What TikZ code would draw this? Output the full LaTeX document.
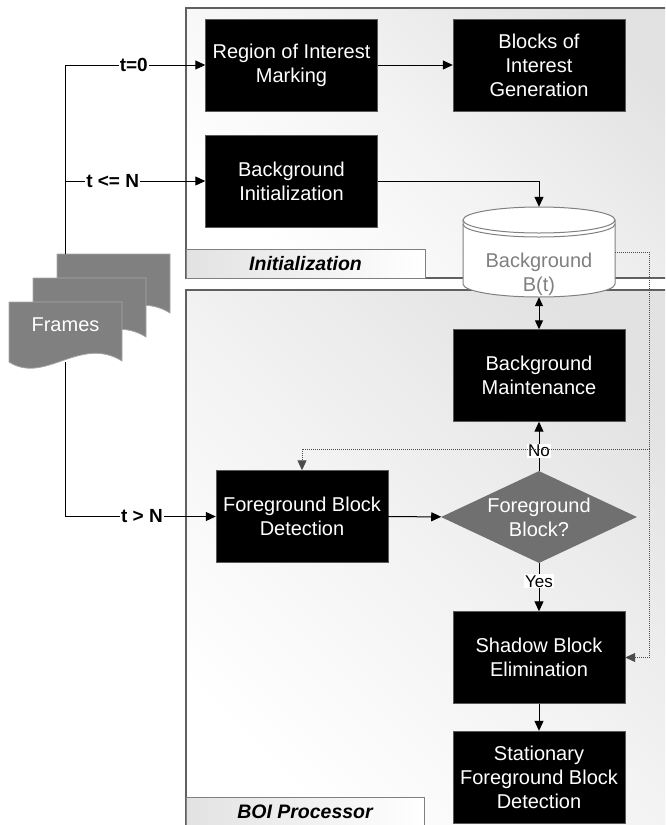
\documentclass[tikz,border=0pt]{standalone}
\usepackage{fontspec}
\setmainfont{Liberation Sans}
\usetikzlibrary{shapes.geometric,arrows.meta}
\definecolor{gray1}{RGB}{226,226,226}
\definecolor{gray2}{RGB}{112,112,112}
\definecolor{gray3}{RGB}{128,128,128}
\definecolor{edge1}{RGB}{96,96,96}
\tikzset{
  procbox/.style={fill=black, draw=gray!70!black, text=white, align=center, inner sep=0pt,
    minimum width=172pt, minimum height=92pt, font=\fontsize{20}{24}\selectfont},
  decision/.style={diamond, aspect=2.13, fill=gray2, text=white, align=center, inner sep=0pt,
    minimum width=196pt, minimum height=92pt, font=\fontsize{20}{24}\selectfont},
  flow/.style={-{Triangle[length=10pt,width=9pt]}, line width=1pt},
  flowboth/.style={{Triangle[length=9pt,width=8pt]}-{Triangle[length=9pt,width=8pt]}, line width=1pt},
  aux/.style={flow, draw=gray!60!black, dash pattern=on 1pt off 1pt, line width=0.9pt},
  lbl/.style={fill=white, inner sep=1pt, font=\fontsize{19}{22}\selectfont\bfseries},
  cond/.style={fill=white, inner sep=1pt, font=\fontsize{17}{20}\selectfont},
  panel/.style={draw=edge1, line width=1.2pt, top color=gray1, bottom color=white, middle color=gray1!45!white, shading angle=-45},
  tag/.style={draw=gray3, line width=1pt, left color=gray1, right color=white, inner sep=0pt,
    font=\fontsize{19.5}{22}\selectfont\bfseries\itshape},
  page/.style={fill=gray3, draw=gray!70, line width=0.8pt},
}

\begin{document}
\begin{tikzpicture}[x=1pt,y=-1pt]
\useasboundingbox (0,0) rectangle (665,825);
\clip (0,0) rectangle (665,825);
%
% containers
\draw[panel] (186,8) rectangle (700,278);
\draw[panel] (186,290) rectangle (700,840);
\node[tag, minimum width=239pt, minimum height=29pt] (inittag) at (305.5,263.5) {Initialization};
\node[tag, minimum width=238pt, minimum height=30pt] (boitag) at (305,812) {BOI Processor};
%
% blocks
\node[procbox] (roi) at (291.5,65) {Region of Interest\\Marking};
\node[procbox] (boi) at (539,65) {Blocks of\\Interest\\Generation};
\node[procbox] (bi) at (291.5,181) {Background\\Initialization};
\node[procbox] (bm) at (539,375.5) {Background\\Maintenance};
\node[procbox] (fbd) at (302,516.5) {Foreground Block\\Detection};
\node[decision] (fbq) at (539,517) {Foreground\\Block?};
\node[procbox] (sbe) at (539,657.5) {Shadow Block\\Elimination};
\node[procbox] (sfbd) at (539,777) {Stationary\\Foreground Block\\Detection};
%
% background store
\node[minimum width=152pt, minimum height=90pt, inner sep=0pt] (bgstore) at (539,252) {};
\draw[fill=white, draw=gray3, line width=1pt] (463,220) -- (463,284) arc (180:360:76pt and 13pt)
  -- (615,220) arc (0:180:76pt and 13pt) -- cycle;
\draw[gray3, line width=1pt] (463,220) arc (180:360:76pt and 13pt);
\draw[gray3, line width=1pt] (463,224) arc (180:360:76pt and 13pt);
\node[text=gray3, align=center, font=\fontsize{20}{24}\selectfont] (bgtext) at (539,274) {Background\\B(t)};
%
% frames
\foreach \d in {48,24,0}
  \draw[page] ({9+\d},{302-\d}) -- ({122+\d},{302-\d}) -- ({122+\d},{361-\d})
    .. controls ({80+\d},{335-\d}) and ({45+\d},{385-\d}) .. ({9+\d},{362-\d}) -- cycle;
\node[text=white, font=\fontsize{20}{24}\selectfont] (frames) at (65.5,325) {Frames};
\coordinate (ftop) at (65,254);
\coordinate (fbot) at (65,362);
%
% connectors
\draw[flow] (ftop) |- node[lbl, pos=0.745] {t=0} (roi);
\draw[flow] (ftop) |- node[lbl, pos=0.67] {t <= N} (bi);
\draw[flow] (fbot) |- node[lbl, pos=0.755] {t > N} (fbd);
\draw[flow] (roi) -- (boi);
\draw[flow] (bi) -| (bgstore);
\draw[flowboth] (bgstore) -- (bm);
\draw[flow] (fbd) -- (fbq);
\draw[flow] (fbq) -- node[cond, pos=0.4] {No} (bm);
\draw[flow] (fbq) -- node[cond, pos=0.375] {Yes} (sbe);
\draw[flow] (sbe) -- (sfbd);
%
\coordinate (dotj) at (649,449);
\draw[aux] (bgstore.east) -| (dotj) -| (fbd);
\draw[aux] (dotj) |- (sbe);
\end{tikzpicture}
\end{document}
